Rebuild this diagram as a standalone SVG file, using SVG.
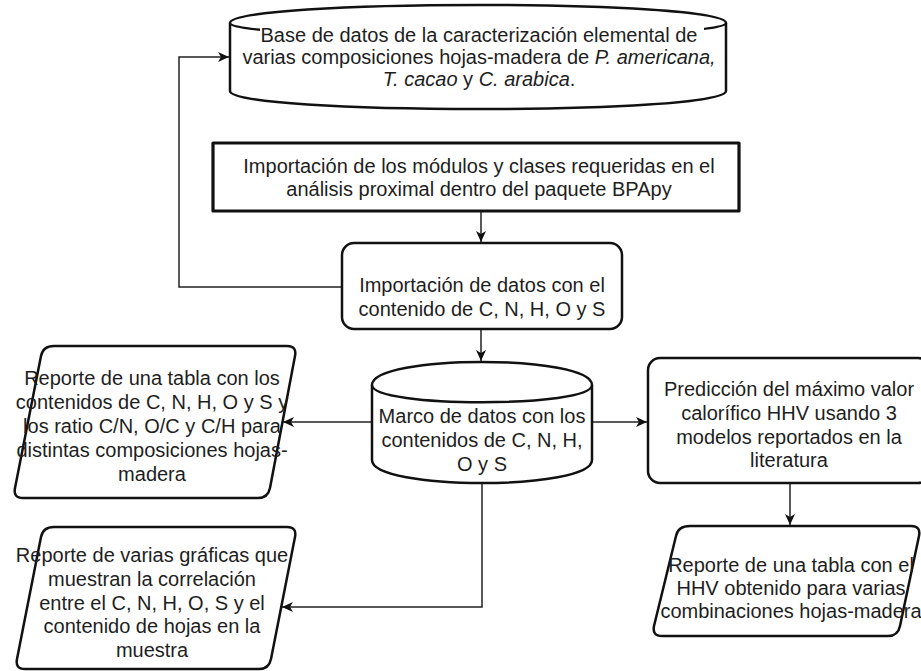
<svg xmlns="http://www.w3.org/2000/svg" width="921" height="671" viewBox="0 0 921 671">
  <style>
    .shape { fill: #ffffff; stroke: #111111; stroke-width: 2.5; stroke-linejoin: round; }
    .thick { stroke-width: 3.2; }
    .edge { fill: none; stroke: #222222; stroke-width: 1.5; }
    text { font-family: "Liberation Sans", Arial, Helvetica, sans-serif; font-size: 20px; fill: #1e1e1e; text-anchor: middle; }
    .it { font-style: italic; }
  </style>
  <defs>
    <marker id="arrow" markerUnits="userSpaceOnUse" markerWidth="14" markerHeight="12" refX="11" refY="5" orient="auto">
      <path d="M0,0 L11,5 L0,10 L3,5 Z" fill="#111111"/>
    </marker>
  </defs>

  <rect width="921" height="671" fill="#ffffff"/>

  <!-- connectors -->
  <g id="connectors">
    <path class="edge" d="M342,287 H179 V57 H229" marker-end="url(#arrow)"/>
    <path class="edge" d="M481,211 V242" marker-end="url(#arrow)"/>
    <path class="edge" d="M481,329 V361" marker-end="url(#arrow)"/>
    <path class="edge" d="M372,422 H283" marker-end="url(#arrow)"/>
    <path class="edge" d="M592,422 H647" marker-end="url(#arrow)"/>
    <path class="edge" d="M482,483 V607 H282" marker-end="url(#arrow)"/>
    <path class="edge" d="M790,483 V525" marker-end="url(#arrow)"/>
  </g>

  <!-- database of elemental characterisation -->
  <g id="base-datos">
    <path class="shape" d="M230,23 C230,-1 726,-1 726,23 L726,91 C726,115 230,115 230,91 Z"/>
    <path class="shape" fill="none" d="M230,23 C230,41 726,41 726,23"/>
    <rect x="260" y="26" width="444" height="22" fill="#ffffff"/>
    <text x="479" y="42">Base de datos de la caracterización elemental de</text>
    <text x="479" y="64">varias composiciones hojas-madera de <tspan class="it">P. americana,</tspan></text>
    <text x="479" y="86"><tspan class="it">T. cacao</tspan> y <tspan class="it">C. arabica</tspan>.</text>
  </g>

  <!-- module import step -->
  <g id="importacion-modulos">
    <rect class="shape thick" x="213" y="143" width="526" height="68"/>
    <text x="479" y="173">Importación de los módulos y clases requeridas en el</text>
    <text x="479" y="196">análisis proximal dentro del paquete BPApy</text>
  </g>

  <!-- data import step -->
  <g id="importacion-datos">
    <rect class="shape" x="342" y="243" width="280" height="86" rx="12"/>
    <text x="482" y="292">Importación de datos con el</text>
    <text x="482" y="316">contenido de C, N, H, O y S</text>
  </g>

  <!-- data frame -->
  <g id="marco-datos">
    <path class="shape" d="M372,385 C372,354.3 592,354.3 592,385 L592,460 C592,490.7 372,490.7 372,460 Z"/>
    <path class="shape" fill="none" d="M372,385 C372,408 592,408 592,385"/>
    <text x="482" y="423">Marco de datos con los</text>
    <text x="482" y="447">contenidos de C, N, H,</text>
    <text x="482" y="471">O y S</text>
  </g>

  <!-- table report -->
  <g id="reporte-tabla">
    <path class="shape" d="M54,346 H287 Q297,346 295,356 L270,488 Q268,498 258,498 H23 Q13,498 15,488 L41,356 Q43,346 54,346 Z"/>
    <text x="152" y="385">Reporte de una tabla con los</text>
    <text x="152" y="409">contenidos de C, N, H, O y S y</text>
    <text x="152" y="433">los ratio C/N, O/C y C/H para</text>
    <text x="152" y="457">distintas composiciones hojas-</text>
    <text x="152" y="481">madera</text>
  </g>

  <!-- HHV prediction -->
  <g id="prediccion-hhv">
    <rect class="shape" x="648" y="358" width="282" height="125" rx="12"/>
    <text x="789" y="396">Predicción del máximo valor</text>
    <text x="789" y="420">calorífico HHV usando 3</text>
    <text x="789" y="444">modelos reportados en la</text>
    <text x="789" y="467">literatura</text>
  </g>

  <!-- correlation plots report -->
  <g id="reporte-graficas">
    <path class="shape" d="M54,527 H287 Q297,527 295,537 L271,659 Q269,669 259,669 H25 Q15,669 17,659 L41,537 Q43,527 54,527 Z"/>
    <text x="152" y="562">Reporte de varias gráficas que</text>
    <text x="152" y="586">muestran la correlación</text>
    <text x="152" y="610">entre el C, N, H, O, S y el</text>
    <text x="152" y="633">contenido de hojas en la</text>
    <text x="152" y="657">muestra</text>
  </g>

  <!-- HHV table report -->
  <g id="reporte-hhv">
    <path class="shape" d="M690,526 H911 Q921,526 919,536 L900,626 Q898,636 888,636 H662 Q652,636 654,626 L676,536 Q678,526 690,526 Z"/>
    <text x="791" y="572">Reporte de una tabla con el</text>
    <text x="791" y="595">HHV obtenido para varias</text>
    <text x="791" y="618">combinaciones hojas-madera</text>
  </g>
</svg>
